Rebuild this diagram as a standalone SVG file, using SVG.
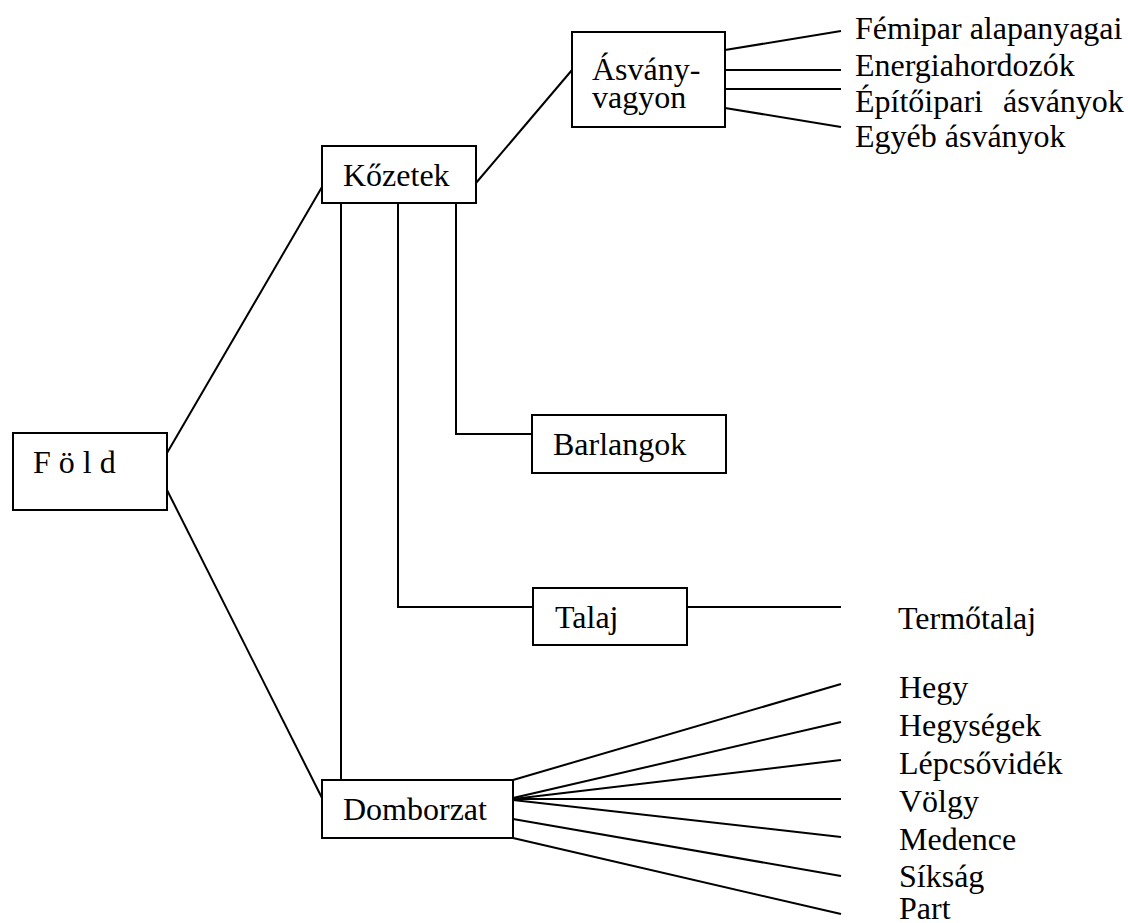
<svg xmlns="http://www.w3.org/2000/svg" width="1128" height="923" viewBox="0 0 1128 923">
<style>
.box{fill:#fff;stroke:#000;stroke-width:2}
.ln{fill:none;stroke:#000;stroke-width:2}
text{font-family:'Liberation Serif','Times New Roman',serif;font-size:32px;fill:#000}
</style>
<rect width="1128" height="923" fill="#fff"/>
<g id="connectors">
<line class="ln" x1="167" y1="453" x2="322" y2="187"/>
<line class="ln" x1="167" y1="490" x2="322" y2="798"/>
<line class="ln" x1="476" y1="183" x2="572" y2="70"/>
<line class="ln" x1="341" y1="203" x2="341" y2="780"/>
<polyline class="ln" points="398,203 398,607 533,607"/>
<polyline class="ln" points="456,203 456,434 532,434"/>
<line class="ln" x1="687" y1="607" x2="841" y2="607"/>
<line class="ln" x1="725" y1="50" x2="841" y2="31"/>
<line class="ln" x1="725" y1="70" x2="841" y2="70"/>
<line class="ln" x1="725" y1="89" x2="841" y2="89"/>
<line class="ln" x1="725" y1="108" x2="841" y2="127"/>
<line class="ln" x1="513" y1="780" x2="841" y2="684"/>
<line class="ln" x1="513" y1="798" x2="841" y2="722"/>
<line class="ln" x1="513" y1="799" x2="841" y2="760"/>
<line class="ln" x1="513" y1="799" x2="841" y2="799"/>
<line class="ln" x1="513" y1="800" x2="841" y2="837"/>
<line class="ln" x1="513" y1="819" x2="841" y2="876"/>
<line class="ln" x1="513" y1="838" x2="841" y2="914"/>
</g>
<g font-family="Liberation Serif, serif" font-size="32">
<g id="fold"><rect class="box" x="13" y="433" width="154" height="77"/><text x="33" y="473">F ö l d</text></g>
<g id="kozetek"><rect class="box" x="322" y="146" width="154" height="57"/><text x="343" y="186">Kőzetek</text></g>
<g id="asvanyvagyon"><rect class="box" x="572" y="32" width="153" height="95"/><text x="592" y="80">Ásvány-</text><text x="592" y="108">vagyon</text></g>
<g id="barlangok"><rect class="box" x="532" y="415" width="194" height="58"/><text x="553" y="455">Barlangok</text></g>
<g id="talaj"><rect class="box" x="533" y="588" width="154" height="57"/><text x="555" y="628">Talaj</text></g>
<g id="domborzat"><rect class="box" x="322" y="780" width="191" height="58"/><text x="343" y="820">Domborzat</text></g>
<g id="asvany-labels">
<text x="855" y="39">Fémipar alapanyagai</text>
<text x="855" y="76">Energiahordozók</text>
<text x="855" y="112">Építőipari<tspan x="1003">ásványok</tspan></text>
<text x="855" y="147">Egyéb ásványok</text>
</g>
<g id="termotalaj"><text x="898" y="629">Termőtalaj</text></g>
<g id="domborzat-labels">
<text x="899" y="698">Hegy</text>
<text x="899" y="736">Hegységek</text>
<text x="899" y="774">Lépcsővidék</text>
<text x="899" y="812">Völgy</text>
<text x="899" y="850">Medence</text>
<text x="899" y="887">Síkság</text>
<text x="899" y="919">Part</text>
</g>
</g>
</svg>
